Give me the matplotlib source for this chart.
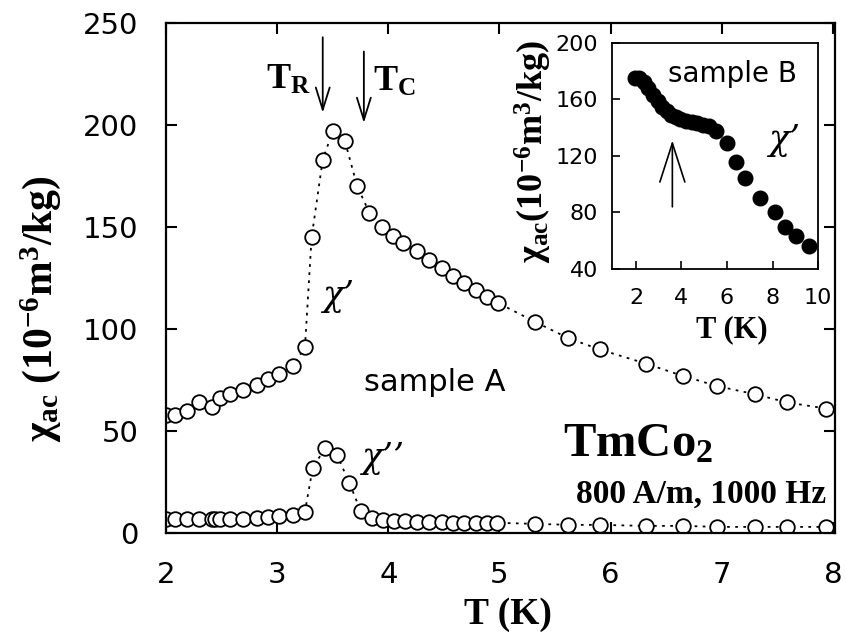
import numpy as np
import matplotlib
matplotlib.use("Agg")
import matplotlib.pyplot as plt

plt.rcParams["mathtext.fontset"] = "custom"
plt.rcParams["mathtext.rm"] = "Liberation Serif:bold"
plt.rcParams["mathtext.bf"] = "Liberation Serif:bold"
plt.rcParams["mathtext.it"] = "Liberation Serif:bold:italic"

# sample A, real part chi'
T_chi1 = [2.00, 2.08, 2.19, 2.30, 2.41, 2.49, 2.58, 2.69, 2.82, 2.92, 3.02, 3.14,
          3.25, 3.31, 3.41, 3.50, 3.61, 3.72, 3.83, 3.94, 4.04, 4.13, 4.26, 4.37,
          4.48, 4.58, 4.68, 4.79, 4.89, 4.99, 5.32, 5.62, 5.90, 6.32, 6.65, 6.96,
          7.30, 7.59, 7.94]
chi1 = [58, 58, 60, 64, 62, 66, 68, 70, 72.5, 75.5, 78, 82,
        91, 145, 183, 197, 192, 170, 157, 150, 145.5, 142, 138, 134,
        130, 126, 122.5, 119, 115.7, 112.7, 103.5, 95.5, 90, 83, 77, 72,
        68, 64, 61]

# sample A, imaginary part chi''
T_chi2 = [2.00, 2.08, 2.19, 2.30, 2.41, 2.44, 2.49, 2.58, 2.69, 2.82, 2.92, 3.02,
          3.14, 3.25, 3.32, 3.43, 3.54, 3.65, 3.75, 3.85, 3.95, 4.05, 4.15, 4.26,
          4.37, 4.48, 4.58, 4.68, 4.79, 4.89, 4.98, 5.32, 5.62, 5.90, 6.32, 6.65,
          6.96, 7.30, 7.59, 7.94]
chi2 = [7, 7, 7, 7, 7, 7, 7, 7, 7, 7.5, 8, 8.5,
        9, 10.5, 32, 41.5, 38, 24.5, 11, 7.5, 6.5, 6, 6, 5.5,
        5.5, 5.5, 5, 5, 5, 5, 5, 4.5, 4, 4, 3.5, 3.5,
        3, 3, 3, 3]

# sample B, chi' (inset)
T_B = [1.95, 2.15, 2.35, 2.55, 2.75, 2.95, 3.15, 3.35, 3.55, 3.75, 3.95, 4.2,
       4.45, 4.7, 4.95, 5.2, 5.5, 6.0, 6.4, 6.8, 7.45, 8.1, 8.55, 9.05, 9.6]
chi_B = [175, 175, 172, 168, 163, 159, 155, 152, 149, 147.5, 146, 145,
         144, 143, 142, 141, 138, 129.5, 116, 104.5, 90.5, 80, 70, 63, 56]

T_R = 3.41
T_C = 3.78
T_arrow_B = 3.6

serif_bold = dict(family="Liberation Serif", weight="bold")
greek = dict(family=["DejaVu Serif"], style="italic")

fig = plt.figure(figsize=(8.47, 6.35), dpi=100)
ax = fig.add_axes([0.196, 0.1606, 0.790, 0.8032])

ax.plot(T_chi1, chi1, ls=(0, (1.5, 3)), color="k", lw=1.3,
        marker="o", ms=10.5, mfc="white", mec="k", mew=1.3)
ax.plot(T_chi2, chi2, ls=(0, (1.5, 3)), color="k", lw=1.3,
        marker="o", ms=10.5, mfc="white", mec="k", mew=1.3)

ax.set_xlim(2, 8.02)
ax.set_ylim(0, 250)
ax.set_xticks(range(2, 9))
ax.set_yticks(range(0, 251, 50))
ax.tick_params(direction="in", length=8, width=1.5, top=True, right=True,
               labelsize=21, pad=20)
for sp in ax.spines.values():
    sp.set_linewidth(1.6)

ax.set_xlabel("T (K)", fontsize=27, va="center", **serif_bold)
ax.xaxis.set_label_coords(0.511, -0.16)
ax.set_ylabel(r"χ$_{\mathrm{ac}}$ (10$^{\mathrm{-6}}$m$^{\mathrm{3}}$/kg)",
              fontsize=30, va="center", **serif_bold)
ax.yaxis.set_label_coords(-0.188, 0.44)

# transition arrows
arrow_kw = dict(arrowstyle="->, head_length=0.8, head_width=0.25", lw=1.3,
                color="k", mutation_scale=20, shrinkA=0, shrinkB=0)
ax.annotate("", xy=(T_R, 206), xytext=(T_R, 243), arrowprops=arrow_kw)
ax.annotate("", xy=(T_C, 201), xytext=(T_C, 236), arrowprops=arrow_kw)
ax.text(3.30, 222, r"T$_{\mathrm{R}}$", fontsize=26, ha="right", va="center", **serif_bold)
ax.text(3.86, 221, r"T$_{\mathrm{C}}$", fontsize=26, ha="left", va="center", **serif_bold)

ax.text(3.55, 116, "χ’", fontsize=25, ha="center", va="center", **greek)
ax.text(3.95, 37, "χ’’", fontsize=25, ha="center", va="center", **greek)
ax.text(4.42, 74, "sample A", fontsize=22, ha="center", va="center")
ax.text(5.57, 37.5, r"TmCo$_{\mathrm{2}}$", fontsize=35, ha="left",
        va="baseline", **serif_bold)
ax.text(7.94, 14.7, "800 A/m, 1000 Hz", fontsize=24, ha="right",
        va="baseline", **serif_bold)

# inset: sample B
ax_in = fig.add_axes([0.7226, 0.5764, 0.2432, 0.356])
ax_in.plot(T_B, chi_B, ls="none", marker="o", ms=10.5, color="k")
ax_in.set_xlim(0.95, 10.0)
ax_in.set_ylim(40, 200)
ax_in.set_xticks([2, 4, 6, 8, 10])
ax_in.set_yticks(range(40, 201, 40))
ax_in.tick_params(direction="in", length=6, width=1.2, labelsize=16, pad=10)
ax_in.tick_params(axis="x", pad=14)
for sp in ax_in.spines.values():
    sp.set_linewidth(1.3)

ax_in.set_xlabel("T (K)", fontsize=22, va="center", **serif_bold)
ax_in.xaxis.set_label_coords(0.58, -0.27)
ax_in.set_ylabel(r"χ$_{\mathrm{ac}}$(10$^{\mathrm{-6}}$m$^{\mathrm{3}}$/kg)",
                 fontsize=26, va="center", **serif_bold)
ax_in.yaxis.set_label_coords(-0.38, 0.52)

ax_in.annotate("", xy=(T_arrow_B, 131), xytext=(T_arrow_B, 84),
               arrowprops=dict(arrowstyle="->, head_length=1.4, head_width=0.45",
                               lw=1.2, color="k", mutation_scale=20,
                               shrinkA=0, shrinkB=0))
ax_in.text(3.4, 172.5, "sample B", fontsize=20, ha="left", va="baseline")
ax_in.text(8.5, 131.5, "χ’", fontsize=25, ha="center", va="center", **greek)

fig.savefig("out.png", dpi=100)
